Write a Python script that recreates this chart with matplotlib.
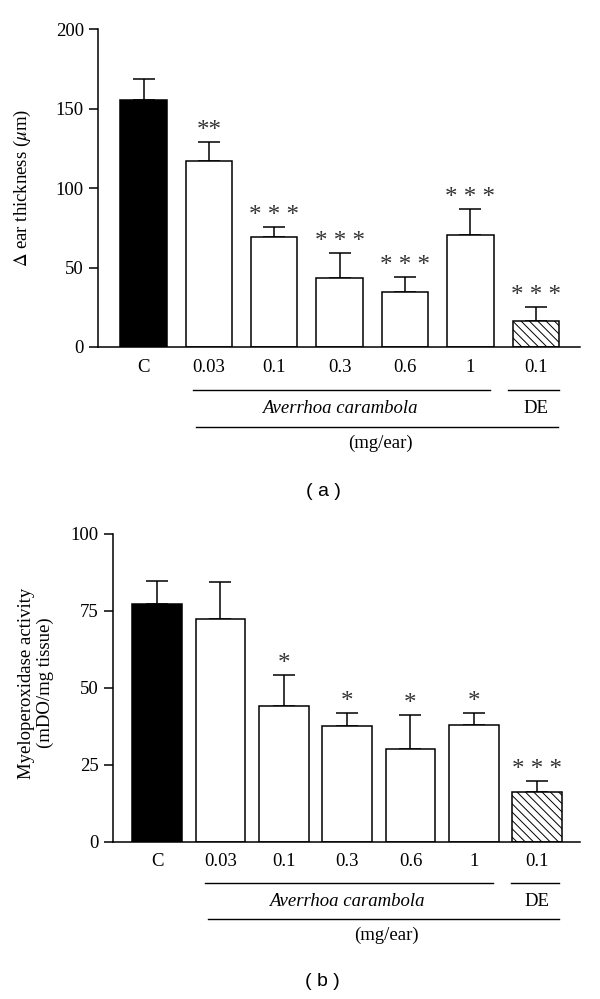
import matplotlib
matplotlib.use("Agg")
import matplotlib.pyplot as plt
import matplotlib.transforms as mtransforms
import numpy as np

plt.rcParams['font.family'] = ['Liberation Serif', 'DejaVu Serif']
plt.rcParams['mathtext.fontset'] = 'stix'
plt.rcParams['hatch.linewidth'] = 0.7

# data
groups = ['C', '0.03', '0.1', '0.3', '0.6', '1', '0.1']
ear_mean = [155.5, 117.2, 69.5, 43.7, 34.9, 70.6, 16.6]
ear_err = [13.4, 11.6, 6.3, 15.5, 9.2, 16.0, 8.4]
ear_stars = ['', '**', '* * *', '* * *', '* * *', '* * *', '* * *']

mpo_mean = [77.1, 72.5, 44.1, 37.6, 30.1, 37.9, 16.1]
mpo_err = [7.5, 12.0, 10.2, 4.3, 11.0, 3.8, 3.5]
mpo_stars = ['', '', '*', '*', '*', '*', '* * *']

faces = ['black', 'white', 'white', 'white', 'white', 'white', 'white']
hatches = ['', '', '', '', '', '', '\\\\\\\\']

fs = 13.5
fig = plt.figure(figsize=(6, 9.99), dpi=100)


def panel(ax, means, errs, stars, ylim, yticks, ylabel, width, letter, star_pad,
          label_x, label_y, letter_x):
    x = np.arange(len(groups))
    ax.bar(x, means, width=width, color=faces, edgecolor='black', linewidth=1.1,
           hatch=hatches, zorder=2)
    ax.errorbar(x, means, yerr=[np.zeros(len(x)), errs], fmt='none', ecolor='black',
                elinewidth=1.1, capsize=8, capthick=1.1, zorder=1)
    for xi, m, e, s in zip(x, means, errs, stars):
        if s:
            ax.annotate(s, (xi, m + e), xytext=(0, star_pad), textcoords='offset points',
                        ha='center', va='bottom', fontsize=18, color='#333333')
    ax.set_xlim(-0.7, 6.68)
    ax.set_ylim(*ylim)
    ax.set_yticks(yticks)
    ax.set_xticks([])
    ax.spines['top'].set_visible(False)
    ax.spines['right'].set_visible(False)
    ax.spines['left'].set_linewidth(1.1)
    ax.spines['bottom'].set_linewidth(1.1)
    ax.tick_params(axis='y', direction='out', length=6.5, width=1.1, labelsize=fs)
    ax.set_ylabel(ylabel, fontsize=fs, linespacing=1.15)
    ax.yaxis.set_label_coords(label_x, label_y)

    trans = mtransforms.blended_transform_factory(ax.transData, ax.transAxes)
    for xi, g in zip(x, groups):
        ax.text(xi, -0.065, g, transform=trans, ha='center', va='center', fontsize=fs)
    # group brackets under the axis
    ax.plot([x[1] - 0.25, x[5] + 0.3], [-0.135, -0.135], transform=trans, color='black',
            lw=1.0, clip_on=False)
    ax.plot([x[6] - 0.42, x[6] + 0.35], [-0.135, -0.135], transform=trans, color='black',
            lw=1.0, clip_on=False)
    ax.text((x[1] + x[5]) / 2, -0.195, 'Averrhoa carambola', transform=trans, ha='center',
            va='center', fontsize=fs, style='italic')
    ax.text(x[6], -0.195, 'DE', transform=trans, ha='center', va='center', fontsize=fs)
    ax.plot([x[1] - 0.2, x[6] + 0.34], [-0.252, -0.252], transform=trans, color='black',
            lw=1.0, clip_on=False)
    ax.text(3.62, -0.303, '(mg/ear)', transform=trans, ha='center', va='center',
            fontsize=fs)
    ax.text(letter_x, -0.455, '( ' + letter + ' )', transform=trans, ha='center',
            va='center', fontsize=14, family=['Liberation Sans', 'DejaVu Sans'])


ax1 = fig.add_axes([0.163, 0.6527, 0.804, 0.318])
panel(ax1, ear_mean, ear_err, ear_stars, (0, 200), [0, 50, 100, 150, 200],
      r'$\Delta$ ear thickness ($\mu$m)', 0.71, 'a', 0, -0.135, 0.5, 2.75)

ax2 = fig.add_axes([0.188, 0.1575, 0.779, 0.308])
panel(ax2, mpo_mean, mpo_err, mpo_stars, (0, 100), [0, 25, 50, 75, 100],
      'Myeloperoxidase activity\n(mDO/mg tissue)', 0.78, 'b', 0, -0.125, 0.516, 2.61)

fig.savefig('out.png', dpi=100)
